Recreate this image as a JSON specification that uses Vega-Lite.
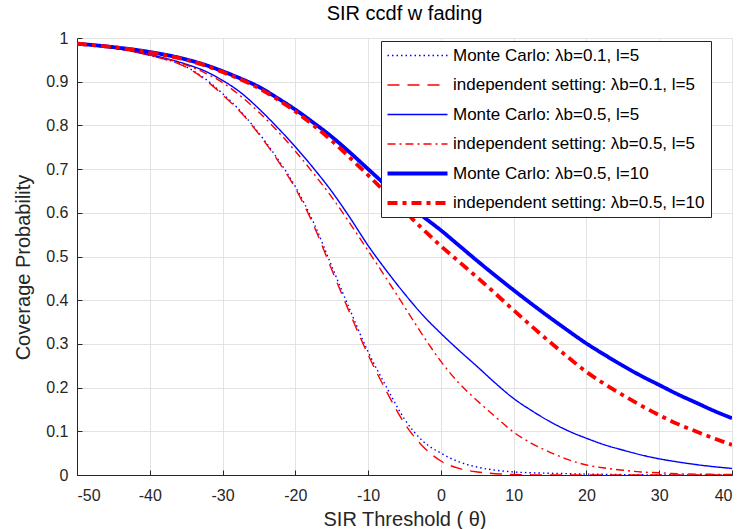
{
  "$schema": "https://vega.github.io/schema/vega-lite/v6.json",
  "width": 655,
  "height": 437,
  "autosize": "none",
  "padding": {"left": 77, "top": 38, "right": 11, "bottom": 54},
  "background": "white",
  "title": {"text": "SIR ccdf w fading", "fontSize": 20, "fontWeight": "normal", "font": "Liberation Sans", "color": "#000000", "offset": 6, "anchor": "middle"},
  "config": {
    "view": {"stroke": null},
    "font": "Liberation Sans",
    "axis": {"labelFont": "Liberation Sans", "titleFont": "Liberation Sans", "labelColor": "#262626", "titleColor": "#262626", "domainColor": "#262626", "tickColor": "#262626", "gridColor": "#e3e3e3", "gridWidth": 1, "labelFontSize": 16, "titleFontSize": 20, "titleFontWeight": "normal", "domainWidth": 1}
  },
  "datasets": {
    "curves": [
      {"s": "A1", "x": -50, "y": 0.986}, {"s": "A1", "x": -45, "y": 0.977}, {"s": "A1", "x": -40, "y": 0.960}, {"s": "A1", "x": -35, "y": 0.934}, {"s": "A1", "x": -32.5, "y": 0.908}, {"s": "A1", "x": -30, "y": 0.873}, {"s": "A1", "x": -27.5, "y": 0.832}, {"s": "A1", "x": -25, "y": 0.782}, {"s": "A1", "x": -22.5, "y": 0.725}, {"s": "A1", "x": -20, "y": 0.660}, {"s": "A1", "x": -17.5, "y": 0.578}, {"s": "A1", "x": -15, "y": 0.478}, {"s": "A1", "x": -12.5, "y": 0.378}, {"s": "A1", "x": -10, "y": 0.282}, {"s": "A1", "x": -7.5, "y": 0.202}, {"s": "A1", "x": -5, "y": 0.128}, {"s": "A1", "x": -2.5, "y": 0.078}, {"s": "A1", "x": 0, "y": 0.050}, {"s": "A1", "x": 2.5, "y": 0.030}, {"s": "A1", "x": 5, "y": 0.018}, {"s": "A1", "x": 7.5, "y": 0.011}, {"s": "A1", "x": 10, "y": 0.007}, {"s": "A1", "x": 12.5, "y": 0.005}, {"s": "A1", "x": 15, "y": 0.004}, {"s": "A1", "x": 17.5, "y": 0.003}, {"s": "A1", "x": 20, "y": 0.002}, {"s": "A1", "x": 22.5, "y": 0.0015}, {"s": "A1", "x": 25, "y": 0.001}, {"s": "A1", "x": 27.5, "y": 0.0005}, {"s": "A1", "x": 30, "y": 0}, {"s": "A1", "x": 35, "y": 0}, {"s": "A1", "x": 40, "y": 0},
      {"s": "A2", "x": -50, "y": 0.986}, {"s": "A2", "x": -45, "y": 0.977}, {"s": "A2", "x": -40, "y": 0.960}, {"s": "A2", "x": -35, "y": 0.933}, {"s": "A2", "x": -32.5, "y": 0.906}, {"s": "A2", "x": -30, "y": 0.870}, {"s": "A2", "x": -27.5, "y": 0.830}, {"s": "A2", "x": -25, "y": 0.780}, {"s": "A2", "x": -22.5, "y": 0.722}, {"s": "A2", "x": -20, "y": 0.656}, {"s": "A2", "x": -17.5, "y": 0.572}, {"s": "A2", "x": -15, "y": 0.470}, {"s": "A2", "x": -12.5, "y": 0.370}, {"s": "A2", "x": -10, "y": 0.275}, {"s": "A2", "x": -7.5, "y": 0.192}, {"s": "A2", "x": -5, "y": 0.118}, {"s": "A2", "x": -2.5, "y": 0.066}, {"s": "A2", "x": 0, "y": 0.032}, {"s": "A2", "x": 2.5, "y": 0.015}, {"s": "A2", "x": 5, "y": 0.007}, {"s": "A2", "x": 7.5, "y": 0.003}, {"s": "A2", "x": 10, "y": 0.0012}, {"s": "A2", "x": 12.5, "y": 0.0004}, {"s": "A2", "x": 15, "y": 0}, {"s": "A2", "x": 20, "y": 0}, {"s": "A2", "x": 30, "y": 0}, {"s": "A2", "x": 40, "y": 0},
      {"s": "B1", "x": -50, "y": 0.986}, {"s": "B1", "x": -45, "y": 0.977}, {"s": "B1", "x": -40, "y": 0.962}, {"s": "B1", "x": -35, "y": 0.940}, {"s": "B1", "x": -32.5, "y": 0.925}, {"s": "B1", "x": -30, "y": 0.903}, {"s": "B1", "x": -27.5, "y": 0.875}, {"s": "B1", "x": -25, "y": 0.838}, {"s": "B1", "x": -22.5, "y": 0.796}, {"s": "B1", "x": -20, "y": 0.751}, {"s": "B1", "x": -17.5, "y": 0.702}, {"s": "B1", "x": -15, "y": 0.649}, {"s": "B1", "x": -12.5, "y": 0.589}, {"s": "B1", "x": -10, "y": 0.525}, {"s": "B1", "x": -7.5, "y": 0.468}, {"s": "B1", "x": -5, "y": 0.415}, {"s": "B1", "x": -2.5, "y": 0.366}, {"s": "B1", "x": 0, "y": 0.324}, {"s": "B1", "x": 2.5, "y": 0.285}, {"s": "B1", "x": 5, "y": 0.248}, {"s": "B1", "x": 7.5, "y": 0.210}, {"s": "B1", "x": 10, "y": 0.175}, {"s": "B1", "x": 12.5, "y": 0.147}, {"s": "B1", "x": 15, "y": 0.122}, {"s": "B1", "x": 17.5, "y": 0.101}, {"s": "B1", "x": 20, "y": 0.084}, {"s": "B1", "x": 22.5, "y": 0.069}, {"s": "B1", "x": 25, "y": 0.057}, {"s": "B1", "x": 27.5, "y": 0.046}, {"s": "B1", "x": 30, "y": 0.037}, {"s": "B1", "x": 32.5, "y": 0.030}, {"s": "B1", "x": 35, "y": 0.024}, {"s": "B1", "x": 37.5, "y": 0.019}, {"s": "B1", "x": 40, "y": 0.015},
      {"s": "B2", "x": -50, "y": 0.986}, {"s": "B2", "x": -45, "y": 0.977}, {"s": "B2", "x": -40, "y": 0.961}, {"s": "B2", "x": -35, "y": 0.938}, {"s": "B2", "x": -32.5, "y": 0.921}, {"s": "B2", "x": -30, "y": 0.898}, {"s": "B2", "x": -27.5, "y": 0.867}, {"s": "B2", "x": -25, "y": 0.830}, {"s": "B2", "x": -22.5, "y": 0.788}, {"s": "B2", "x": -20, "y": 0.741}, {"s": "B2", "x": -17.5, "y": 0.690}, {"s": "B2", "x": -15, "y": 0.636}, {"s": "B2", "x": -12.5, "y": 0.576}, {"s": "B2", "x": -10, "y": 0.513}, {"s": "B2", "x": -7.5, "y": 0.450}, {"s": "B2", "x": -5, "y": 0.385}, {"s": "B2", "x": -2.5, "y": 0.320}, {"s": "B2", "x": 0, "y": 0.260}, {"s": "B2", "x": 2.5, "y": 0.210}, {"s": "B2", "x": 5, "y": 0.170}, {"s": "B2", "x": 7.5, "y": 0.133}, {"s": "B2", "x": 10, "y": 0.098}, {"s": "B2", "x": 12.5, "y": 0.072}, {"s": "B2", "x": 15, "y": 0.052}, {"s": "B2", "x": 17.5, "y": 0.035}, {"s": "B2", "x": 20, "y": 0.023}, {"s": "B2", "x": 22.5, "y": 0.016}, {"s": "B2", "x": 25, "y": 0.011}, {"s": "B2", "x": 27.5, "y": 0.007}, {"s": "B2", "x": 30, "y": 0.005}, {"s": "B2", "x": 32.5, "y": 0.003}, {"s": "B2", "x": 35, "y": 0.002}, {"s": "B2", "x": 37.5, "y": 0.0015}, {"s": "B2", "x": 40, "y": 0.001},
      {"s": "C1", "x": -50, "y": 0.987}, {"s": "C1", "x": -45, "y": 0.979}, {"s": "C1", "x": -40, "y": 0.968}, {"s": "C1", "x": -35, "y": 0.951}, {"s": "C1", "x": -32.5, "y": 0.939}, {"s": "C1", "x": -30, "y": 0.924}, {"s": "C1", "x": -27.5, "y": 0.907}, {"s": "C1", "x": -25, "y": 0.888}, {"s": "C1", "x": -22.5, "y": 0.863}, {"s": "C1", "x": -20, "y": 0.836}, {"s": "C1", "x": -17.5, "y": 0.806}, {"s": "C1", "x": -15, "y": 0.774}, {"s": "C1", "x": -12.5, "y": 0.738}, {"s": "C1", "x": -10, "y": 0.700}, {"s": "C1", "x": -7.5, "y": 0.662}, {"s": "C1", "x": -5, "y": 0.625}, {"s": "C1", "x": -2.5, "y": 0.592}, {"s": "C1", "x": 0, "y": 0.560}, {"s": "C1", "x": 2.5, "y": 0.525}, {"s": "C1", "x": 5, "y": 0.490}, {"s": "C1", "x": 7.5, "y": 0.456}, {"s": "C1", "x": 10, "y": 0.423}, {"s": "C1", "x": 12.5, "y": 0.391}, {"s": "C1", "x": 15, "y": 0.360}, {"s": "C1", "x": 17.5, "y": 0.330}, {"s": "C1", "x": 20, "y": 0.301}, {"s": "C1", "x": 22.5, "y": 0.275}, {"s": "C1", "x": 25, "y": 0.250}, {"s": "C1", "x": 27.5, "y": 0.227}, {"s": "C1", "x": 30, "y": 0.206}, {"s": "C1", "x": 32.5, "y": 0.185}, {"s": "C1", "x": 35, "y": 0.166}, {"s": "C1", "x": 37.5, "y": 0.147}, {"s": "C1", "x": 40, "y": 0.130},
      {"s": "C2", "x": -50, "y": 0.987}, {"s": "C2", "x": -45, "y": 0.979}, {"s": "C2", "x": -40, "y": 0.967}, {"s": "C2", "x": -35, "y": 0.950}, {"s": "C2", "x": -32.5, "y": 0.938}, {"s": "C2", "x": -30, "y": 0.922}, {"s": "C2", "x": -27.5, "y": 0.905}, {"s": "C2", "x": -25, "y": 0.885}, {"s": "C2", "x": -22.5, "y": 0.860}, {"s": "C2", "x": -20, "y": 0.832}, {"s": "C2", "x": -17.5, "y": 0.800}, {"s": "C2", "x": -15, "y": 0.765}, {"s": "C2", "x": -12.5, "y": 0.726}, {"s": "C2", "x": -10, "y": 0.686}, {"s": "C2", "x": -7.5, "y": 0.645}, {"s": "C2", "x": -5, "y": 0.604}, {"s": "C2", "x": -2.5, "y": 0.563}, {"s": "C2", "x": 0, "y": 0.524}, {"s": "C2", "x": 2.5, "y": 0.488}, {"s": "C2", "x": 5, "y": 0.452}, {"s": "C2", "x": 7.5, "y": 0.415}, {"s": "C2", "x": 10, "y": 0.377}, {"s": "C2", "x": 12.5, "y": 0.340}, {"s": "C2", "x": 15, "y": 0.304}, {"s": "C2", "x": 17.5, "y": 0.269}, {"s": "C2", "x": 20, "y": 0.236}, {"s": "C2", "x": 22.5, "y": 0.208}, {"s": "C2", "x": 25, "y": 0.183}, {"s": "C2", "x": 27.5, "y": 0.159}, {"s": "C2", "x": 30, "y": 0.137}, {"s": "C2", "x": 32.5, "y": 0.117}, {"s": "C2", "x": 35, "y": 0.100}, {"s": "C2", "x": 37.5, "y": 0.084}, {"s": "C2", "x": 40, "y": 0.069}
    ]
  },
  "data": {"name": "curves"},
  "encoding": {
    "x": {"field": "x", "type": "quantitative", "scale": {"domain": [-50, 40], "nice": false, "zero": false},
      "axis": {"values": [-50, -40, -30, -20, -10, 0, 10, 20, 30, 40], "labelExpr": "'' + datum.value", "grid": true, "tickSize": -5, "labelPadding": 17, "title": "SIR Threshold ( θ)", "titleY": 50, "titleBaseline": "alphabetic"}},
    "y": {"field": "y", "type": "quantitative", "scale": {"domain": [0, 1], "nice": false},
      "axis": {"values": [0, 0.1, 0.2, 0.3, 0.4, 0.5, 0.6, 0.7, 0.8, 0.9, 1], "format": "~g", "grid": true, "tickSize": -5, "labelPadding": 14, "title": "Coverage Probability", "titleX": -54, "titleY": 229, "titleBaseline": "middle", "titleAngle": -90}},
    "color": {"field": "s", "type": "nominal",
      "scale": {"domain": ["A1", "A2", "B1", "B2", "C1", "C2"], "range": ["#0000ff", "#ff0000", "#0000ff", "#ff0000", "#0000ff", "#ff0000"]},
      "legend": {"orient": "none", "legendX": 304, "legendY": 3, "title": null, "fillColor": "white", "strokeColor": "#262626", "padding": 6,
        "symbolType": "M-4,0H26", "symbolSize": 16, "labelFontSize": 17, "labelFont": "Liberation Sans", "labelColor": "#000000", "labelOffset": 49, "rowPadding": 11.5, "labelLimit": 400,
        "labelExpr": "{'A1': 'Monte Carlo: λb=0.1, l=5', 'A2': 'independent setting: λb=0.1, l=5', 'B1': 'Monte Carlo: λb=0.5, l=5', 'B2': 'independent setting:  λb=0.5, l=5', 'C1': 'Monte Carlo:  λb=0.5, l=10', 'C2': 'independent setting: λb=0.5, l=10'}[datum.value]",
        "encode": {"symbols": {"update": {"strokeWidth": {"signal": "indexof(['C1','C2'], datum.value) >= 0 ? 3.8 : 1.4"}}}}}},
    "strokeDash": {"field": "s", "type": "nominal",
      "scale": {"domain": ["A1", "A2", "B1", "B2", "C1", "C2"], "range": [[1.5, 3], [12, 8], [1, 0], [8, 4, 2, 4], [1, 0], [10, 5, 4, 5]]}}
  },
  "layer": [
    {"transform": [{"filter": {"field": "s", "oneOf": ["A1", "A2", "B1", "B2"]}}],
     "mark": {"type": "line", "interpolate": "monotone", "clip": true, "strokeWidth": 1.4}},
    {"transform": [{"filter": {"field": "s", "oneOf": ["C1", "C2"]}}],
     "mark": {"type": "line", "interpolate": "monotone", "clip": true, "strokeWidth": 3.8}}
  ]
}
